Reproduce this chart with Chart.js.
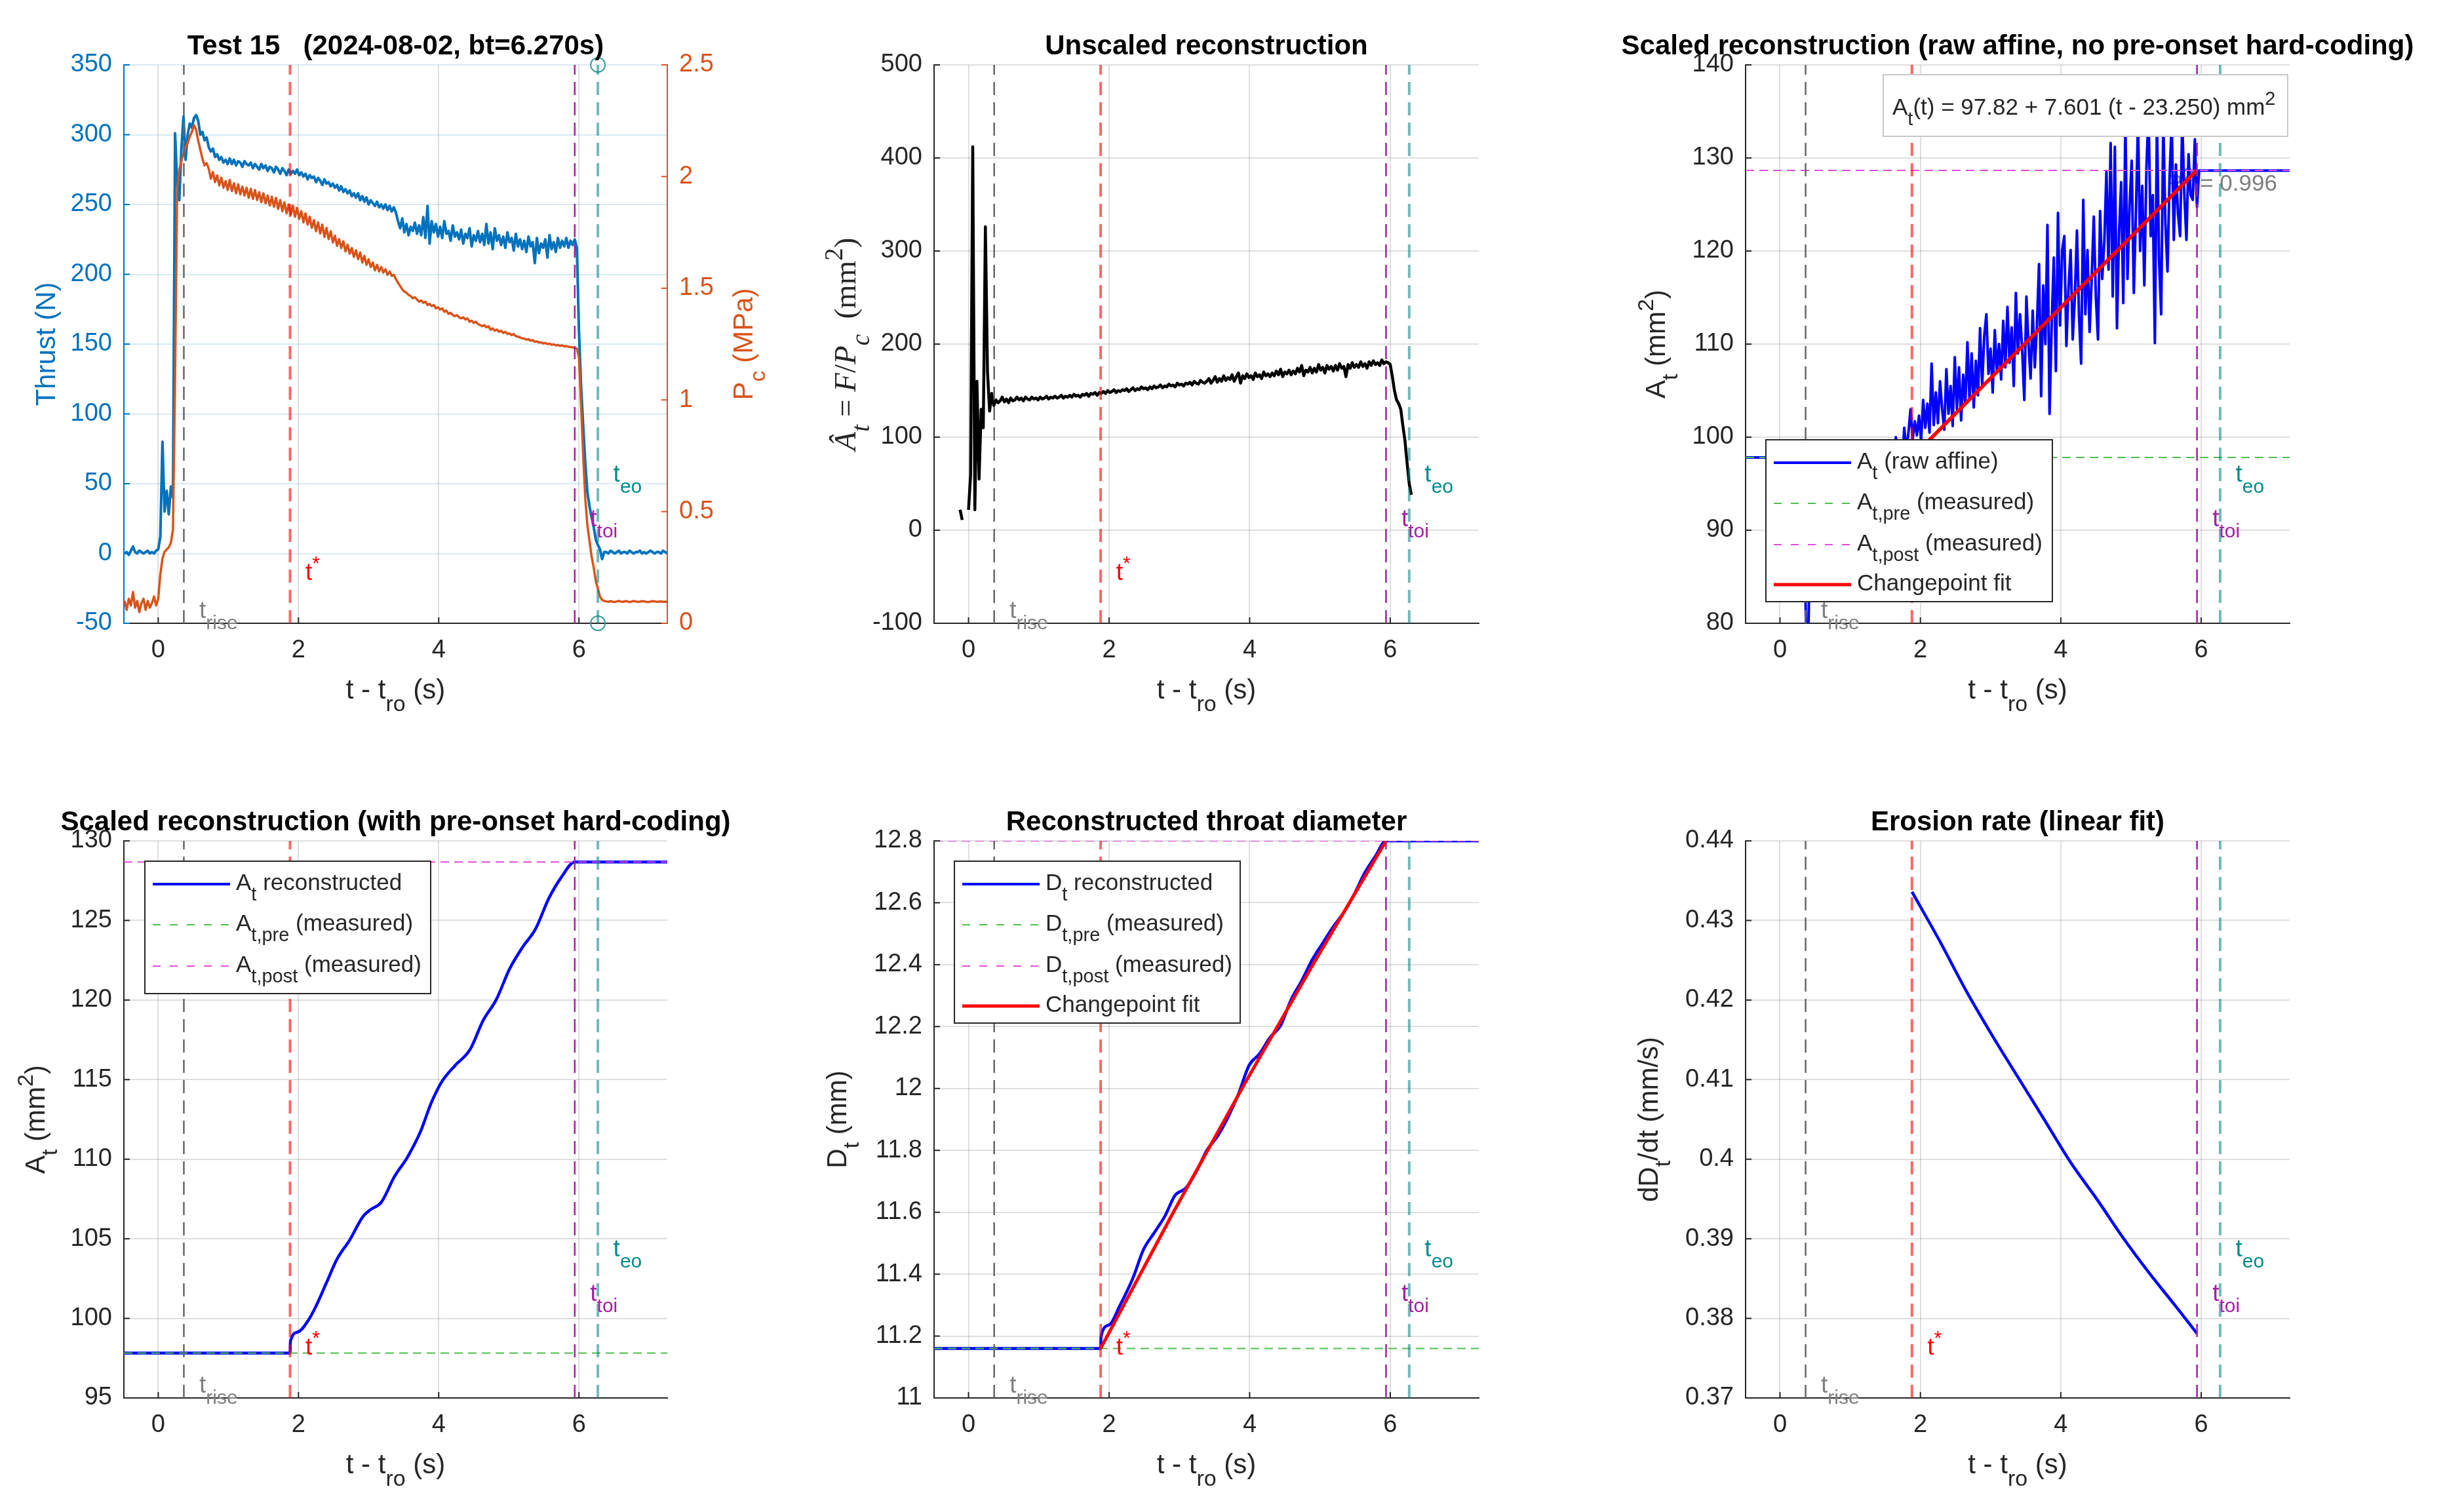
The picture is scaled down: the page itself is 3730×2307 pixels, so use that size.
<!DOCTYPE html>
<html>
<head>
<meta charset="utf-8">
<title>Test 15 - throat reconstruction</title>
<script src="https://cdn.jsdelivr.net/npm/chart.js@4.4.1/dist/chart.umd.min.js"></script>
<style>
  html, body { margin: 0; padding: 0; background: #fff; }
  #page { position: relative; width: 3730px; height: 2307px; overflow: hidden; }
  .cell { position: absolute; }
</style>
</head>
<body>
<div id="page">
  <div class="cell" style="left:0px;top:0px;width:1243px;height:1153px"><canvas id="c1"></canvas></div>
  <div class="cell" style="left:1243px;top:0px;width:1157px;height:1153px"><canvas id="c2"></canvas></div>
  <div class="cell" style="left:2400px;top:0px;width:1330px;height:1153px"><canvas id="c3"></canvas></div>
  <div class="cell" style="left:0px;top:1153px;width:1243px;height:1154px"><canvas id="c4"></canvas></div>
  <div class="cell" style="left:1243px;top:1153px;width:1157px;height:1154px"><canvas id="c5"></canvas></div>
  <div class="cell" style="left:2400px;top:1153px;width:1330px;height:1154px"><canvas id="c6"></canvas></div>
</div>
<script>
// ── data ──
// samples every 0.03 s starting at t - t_ro = -0.48 s
var T0 = -0.48, DT = 0.03;
var xLim = [-0.49, 7.26];
var xTicks = [0, 2, 4, 6];

// event times (s, relative to t_ro)
var tRise = 0.365, tStar = 1.88, tToi = 5.94, tEo = 6.27;

// thrust (N)
var thrustN = [
  0, 1, -1, 2, 5, 1, 0, 2, 1, 0,
  1, 2, 0, 1, 0, 2, 3, 12, 80, 30,
  45, 28, 48, 40, 301, 265, 253, 290, 313, 282,
  300, 308, 305, 312, 314, 310, 300, 302, 296, 298,
  291, 288, 290, 284, 286, 282, 284, 280, 282, 279,
  283, 279, 282, 278, 281, 280, 277, 281, 279, 278,
  280, 276, 279, 277, 275, 279, 276, 278, 274, 277,
  276, 273, 277, 275, 272, 276, 274, 271, 275, 272,
  274, 272, 275, 271, 273, 270, 272, 268, 271, 269,
  270, 266, 269, 267, 264, 268, 265, 266, 263, 265,
  262, 264, 260, 263, 259, 261, 258, 260, 256, 258,
  255, 258, 253, 256, 252, 255, 250, 253, 251, 249,
  252, 248, 250, 247, 250, 246, 249, 245, 248, 244,
  238, 233, 240, 230, 236, 228, 234, 231, 237, 229,
  235, 228, 241, 226, 249, 222, 238, 230, 236, 227,
  234, 226, 238, 229, 231, 224, 235, 227, 230, 225,
  232, 222, 229, 226, 233, 220, 228, 224, 231, 223,
  229, 221, 236, 222, 230, 218, 233, 224, 228, 221,
  227, 219, 230, 223, 226, 217, 229, 220, 225, 218,
  224, 216, 227, 220, 223, 208, 226, 215, 222, 219,
  225, 212, 228, 218, 223, 216, 226, 219, 224, 220,
  226, 219, 224, 221, 225, 219, 160, 120, 92, 65,
  44, 34, 26, 19, 10, 6, 3, -4, 1, 1,
  0, 2, 1, 0, 1, 2, 0, 1, 1, 0,
  2, 1, 0, 1, 1, 2, 0, 1, 0, 1,
  2, 1, 0, 1, 1, 0, 2, 1, 0
];

// chamber pressure (MPa)
var pcMPa = [
  0.10, 0.06, 0.11, 0.08, 0.14, 0.07, 0.10, 0.05, 0.09, 0.11,
  0.06, 0.10, 0.07, 0.09, 0.12, 0.08, 0.11, 0.22, 0.29, 0.32,
  0.33, 0.34, 0.36, 0.42, 1.10, 1.95, 2.03, 2.07, 2.10, 2.13,
  2.15, 2.18, 2.20, 2.23, 2.21, 2.16, 2.12, 2.08, 2.05, 2.06,
  2.035, 1.99, 2.02, 1.975, 2.005, 1.96, 1.995, 1.95, 1.98, 1.94,
  1.985, 1.935, 1.97, 1.925, 1.965, 1.92, 1.955, 1.915, 1.95, 1.905,
  1.945, 1.90, 1.94, 1.895, 1.93, 1.885, 1.925, 1.88, 1.915, 1.87,
  1.91, 1.865, 1.905, 1.855, 1.895, 1.845, 1.885, 1.835, 1.875, 1.83,
  1.87, 1.82, 1.86, 1.81, 1.845, 1.795, 1.835, 1.785, 1.82, 1.77,
  1.805, 1.755, 1.795, 1.745, 1.785, 1.73, 1.77, 1.72, 1.755, 1.705,
  1.735, 1.69, 1.72, 1.68, 1.71, 1.665, 1.695, 1.655, 1.68, 1.64,
  1.67, 1.63, 1.66, 1.615, 1.645, 1.605, 1.63, 1.595, 1.615, 1.58,
  1.605, 1.575, 1.595, 1.57, 1.585, 1.56, 1.575, 1.555, 1.56, 1.54,
  1.525, 1.51, 1.495, 1.485, 1.48, 1.47, 1.465, 1.455, 1.46, 1.45,
  1.44, 1.445, 1.435, 1.44, 1.425, 1.43, 1.42, 1.425, 1.41, 1.415,
  1.405, 1.41, 1.395, 1.40, 1.385, 1.39, 1.38, 1.375, 1.38, 1.37,
  1.365, 1.37, 1.36, 1.365, 1.35, 1.355, 1.345, 1.35, 1.34, 1.335,
  1.33, 1.335, 1.325, 1.33, 1.315, 1.32, 1.31, 1.315, 1.305, 1.31,
  1.30, 1.305, 1.295, 1.298, 1.29, 1.295, 1.285, 1.283, 1.28, 1.276,
  1.275, 1.27, 1.272, 1.265, 1.268, 1.26, 1.262, 1.257, 1.258, 1.253,
  1.255, 1.25, 1.252, 1.247, 1.249, 1.244, 1.246, 1.242, 1.244, 1.24,
  1.241, 1.238, 1.237, 1.235, 1.233, 1.23, 1.19, 0.98, 0.75, 0.56,
  0.44, 0.37, 0.30, 0.25, 0.19, 0.155, 0.12, 0.105, 0.10, 0.098,
  0.096, 0.099, 0.097, 0.095, 0.098, 0.10, 0.097, 0.096, 0.099, 0.098,
  0.095, 0.097, 0.10, 0.098, 0.096, 0.097, 0.099, 0.098, 0.096, 0.095,
  0.097, 0.099, 0.098, 0.096, 0.097, 0.098, 0.096, 0.097, 0.096
];

// unscaled reconstruction F/Pc (mm^2)
var aHatMm2 = [
  null, null, null, null, null, null, null, null, null, null,
  null, null, 22, 11, null, null, 22, 60, 412, 22,
  160, 55, 130, 110, 326, 170, 128, 147, 134, 140,
  137, 139, 143, 138, 141, 137, 142, 139, 140, 143,
  140, 142, 139, 143, 141, 140, 143, 141, 142, 140,
  143, 141, 142, 144, 141, 143, 142, 144, 142, 143,
  145, 142, 144, 143, 145, 143, 146, 144, 145, 143,
  146, 145, 147, 144, 147, 146, 148, 145, 148, 147,
  149, 147, 150, 148, 149, 151, 148, 150, 149, 151,
  150, 152, 149, 151, 153, 150, 152, 151, 154, 152,
  153, 151, 154, 152, 155, 153, 154, 156, 153, 155,
  154, 157, 155, 156, 154, 158, 156, 157, 155, 158,
  157, 159, 156, 160, 158, 157, 161, 159, 158, 160,
  163, 158, 161, 165, 159, 163, 160, 166, 161, 164,
  162, 167, 160, 165, 169, 158, 166, 163, 168, 164,
  166, 162, 169, 165, 167, 163, 170, 166, 168, 165,
  169, 166, 171, 167, 173, 165, 170, 168, 172, 167,
  171, 168, 174, 170, 177, 166, 172, 170, 175, 169,
  174, 170, 178, 172, 175, 169, 177, 173, 176, 171,
  177, 172, 179, 174, 176, 165, 178, 174, 180, 175,
  178, 175, 181, 176, 179, 174, 181, 177, 182, 178,
  180, 177, 183, 179, 181, 180, 178, 165, 150, 140,
  136, 130, 112, 96, 72, 50, 38, null, null, null,
  null, null, null, null, null, null, null, null, null, null,
  null, null, null, null, null, null, null, null, null, null,
  null, null, null, null, null, null, null, null, null
];

// scaled reconstruction, raw affine (mm^2)
var aRawMm2 = [
  97.82, 97.82, 97.82, 97.82, 97.82, 97.82, 97.82, 97.82, 97.82, 97.82,
  97.82, 97.82, 97.82, 97.82, 97.82, 97.82, 97.82, 97.82, 97.82, 97.82,
  97.82, 97.82, 97.82, 97.82, 97.82, 97.82, 97.82, 97.82, 84, 72,
  86, 88, 90, 87, 91, 89, 92, 90, 91, 93,
  90, 92, 91, 93, 90, 94, 92, 93, 91, 94,
  92, 95, 93, 94, 92, 96, 93, 95, 94, 96,
  94, 97, 95, 96, 94, 98, 95, 97, 96, 99.5,
  97, 100, 98, 99, 97, 101, 98.5, 100.5, 103, 99.8,
  101.7, 100.2, 102.3, 99.6, 104, 101, 103.6, 100.5, 107.9, 101.3,
  104.8, 101.5, 106, 103, 100.8, 107.3, 102.5, 105.5, 101.2, 108.6,
  103, 107.5, 101.8, 106.7, 103.5, 110.2, 104, 109, 103.2, 108.2,
  104.5, 111.7, 105.5, 110.9, 113.2, 106.8, 109.5, 104.8, 111.5, 107,
  110, 106.2, 112.5, 107.5, 114, 108, 111.8, 105.5, 115.5, 109,
  113.2, 109.4, 104, 115.1, 110, 106.3, 113.6, 107.5, 112, 118.6,
  104.4, 116.3, 110, 122.8, 102.5, 112, 119.3, 107.1, 124.1, 112,
  120.1, 121.6, 109.8, 116, 120.1, 110.5, 115, 122.2, 113, 107.9,
  125.5, 113.2, 120.1, 111.3, 117, 123.7, 115, 110.5, 124.3, 117,
  121, 128.5, 118, 131.6, 115.1, 131.2, 111.7, 122, 127.4, 114.4,
  134, 117, 125, 129.7, 115.5, 124, 134, 120, 127, 116.3,
  129, 135, 121.6, 126, 110.1, 134, 119, 113.2, 134, 123,
  117.8, 128, 134, 121.2, 129.3, 124, 121.6, 134, 126, 121.2,
  130.4, 126, 125.5, 132, 124.7, 128.65, 128.65, 128.65, 128.65, 128.65,
  128.65, 128.65, 128.65, 128.65, 128.65, 128.65, 128.65, 128.65, 128.65, 128.65,
  128.65, 128.65, 128.65, 128.65, 128.65, 128.65, 128.65, 128.65, 128.65, 128.65,
  128.65, 128.65, 128.65, 128.65, 128.65, 128.65, 128.65, 128.65, 128.65, 128.65,
  128.65, 128.65, 128.65, 128.65, 128.65, 128.65, 128.65, 128.65, 128.65
];

// changepoint fit of the raw affine area
var fitT = [1.88, 5.94];
var fitA = [97.82, 128.68];

// measured pre / post throat area and diameter
var aPre = 97.82, aPost = 128.67;
var dPre = 11.16, dPost = 12.8;

// reconstructed area with pre-onset hard-coding (mm^2)
var aRecT = [-0.49, 1.88, 1.885, 1.99, 2.14, 2.25, 2.40, 2.55, 2.73, 2.92, 3.03, 3.18, 3.37, 3.55,
             3.74, 3.89, 4.04, 4.23, 4.45, 4.63, 4.82, 5.01, 5.19, 5.38, 5.57, 5.75, 5.94, 7.26];
var aRecV = [97.82, 97.82, 98.55, 99.14, 99.88, 100.77, 102.25, 103.73, 104.92, 106.4, 106.84, 107.29, 108.92, 110.1,
             111.73, 113.5, 114.84, 115.87, 116.91, 118.69, 120.02, 121.95, 123.28, 124.46, 126.39, 127.72, 128.67, 128.67];

// reconstructed throat diameter (mm)
var dRecT = [-0.49, 1.88, 1.885, 2.00, 2.15, 2.34, 2.49, 2.64, 2.79, 2.94, 3.09, 3.24, 3.39, 3.54, 3.69,
             3.84, 3.99, 4.14, 4.29, 4.44, 4.59, 4.74, 4.89, 5.04, 5.19, 5.34, 5.49, 5.64, 5.79, 5.94, 7.26];
var dRecV = [11.16, 11.16, 11.198, 11.236, 11.297, 11.388, 11.48, 11.533, 11.586, 11.655, 11.678, 11.731, 11.8, 11.845, 11.906,
             11.982, 12.074, 12.112, 12.165, 12.203, 12.287, 12.348, 12.416, 12.47, 12.523, 12.569, 12.629, 12.698, 12.751, 12.8, 12.8];
var dFitT = [1.88, 2.90, 3.92, 4.93, 5.94];
var dFitV = [11.16, 11.594, 12.012, 12.412, 12.80];

// erosion rate dDt/dt (mm/s)
var rateT = [1.88, 2.27, 2.65, 3.02, 3.39, 3.77, 4.14, 4.52, 4.89, 5.26, 5.63, 5.94];
var rateV = [0.4336, 0.4275, 0.4212, 0.4156, 0.4103, 0.4049, 0.3996, 0.3949, 0.3901, 0.3857, 0.3816, 0.3781];

// tick labels
var thrustTicks = [-50, 0, 50, 100, 150, 200, 250, 300, 350];
var pcTicks = [0, 0.5, 1, 1.5, 2, 2.5];
var aHatTicks = [-100, 0, 100, 200, 300, 400, 500];
var aRawTicks = [80, 90, 100, 110, 120, 130, 140];
var aRecTicks = [95, 100, 105, 110, 115, 120, 125, 130];
var dTicks = [11, 11.2, 11.4, 11.6, 11.8, 12, 12.2, 12.4, 12.6, 12.8];
var rateTicks = [0.37, 0.38, 0.39, 0.4, 0.41, 0.42, 0.43, 0.44];

// ── helpers ──
var SANS = '"Liberation Sans", Arial, Helvetica, sans-serif';
var SERIF = '"Liberation Serif", "Times New Roman", serif';
var AX = '#262626';
var MBLUE = '#0072BD', MORANGE = '#D95319';
var BLUE = '#0000FF', RED = '#FF0000', GREEN = '#4DBF4D', MAGENTA = '#DD4DDD';

var tGrid = thrustN.map(function(_, i){ return Math.round((T0 + i * DT) * 100) / 100; });

function xy(ts, ys){ return ts.map(function(t, i){ return {x: t, y: ys[i]}; }); }
function hline(v){ return [{x: xLim[0], y: v}, {x: xLim[1], y: v}]; }

function drawRich(ctx, parts, x, y, size, color, align, opt){
  opt = opt || {};
  var fam = opt.family || SANS, wt = opt.weight || 'normal';
  var items = parts.map(function(p){
    var k = p[1] || '';
    var sub = k.indexOf('sub') >= 0, sup = k.indexOf('sup') >= 0;
    var sz = Math.round((sub || sup) ? size * 0.82 : size);
    var font = (k.indexOf('it') === 0 ? 'italic ' : '') + wt + ' ' + sz + 'px ' + fam;
    ctx.font = font;
    return {s: p[0], font: font, w: ctx.measureText(p[0]).width,
            dy: sub ? size * 0.45 : (sup ? -size * 0.42 : 0)};
  });
  var total = items.reduce(function(s, it){ return s + it.w; }, 0);
  var cx = align === 'center' ? x - total / 2 : (align === 'right' ? x - total : x);
  ctx.textAlign = 'left';
  ctx.textBaseline = 'alphabetic';
  ctx.fillStyle = color;
  items.forEach(function(it){ ctx.font = it.font; ctx.fillText(it.s, cx, y + it.dy); cx += it.w; });
  return total;
}

function drawRotated(ctx, parts, bx, cy, size, color, opt){
  ctx.save();
  ctx.translate(bx, cy);
  ctx.rotate(-Math.PI / 2);
  drawRich(ctx, parts, 0, 0, size, color, 'center', opt);
  ctx.restore();
}

var MARKERS = [
  {t: tRise, color: '#666666', w: 2.5, label: [['t'], ['rise', 'sub']], lc: '#808080', dy: -8},
  {t: tStar, color: 'rgba(255,0,0,0.6)', w: 4, label: [['t'], ['*', 'sup']], lc: '#FF0000', dy: -66},
  {t: tToi, color: '#A320A3', w: 2.5, label: [['t'], ['toi', 'sub']], lc: '#A320A3', dy: -148},
  {t: tEo, color: 'rgba(0,128,128,0.55)', w: 4, label: [['t'], ['eo', 'sub']], lc: '#008B8B', dy: -216}
];

function drawLegend(ctx, box, rows){
  ctx.save();
  ctx.fillStyle = '#fff';
  ctx.fillRect(box.x, box.y, box.w, box.h);
  ctx.strokeStyle = AX; ctx.lineWidth = 2; ctx.setLineDash([]);
  ctx.strokeRect(box.x, box.y, box.w, box.h);
  var offs = [44, 106, 169, 230];
  rows.forEach(function(r, i){
    var by = box.y + offs[i];
    ctx.strokeStyle = r.color; ctx.lineWidth = r.width;
    ctx.setLineDash(r.dash ? [12, 14] : []);
    ctx.beginPath(); ctx.moveTo(box.x + 12, by - 9); ctx.lineTo(box.x + 130, by - 9); ctx.stroke();
    ctx.setLineDash([]);
    drawRich(ctx, r.parts, box.x + 139, by, 35, AX, 'left');
  });
  ctx.restore();
}

function decor(p){
  function L(gx, gy){ return [gx - p.cell.x, gy - p.cell.y]; }
  return {
    id: 'decor' + p.id,
    beforeDatasetsDraw: function(chart){
      if (p.r2) {
        var q = L(p.r2.x, p.r2.y);
        drawRich(chart.ctx, [['R'], ['2', 'sup'], [' = 0.996']], q[0], q[1], 35, '#7F7F7F', 'left');
      }
    },
    afterDatasetsDraw: function(chart){
      var ctx = chart.ctx, ca = chart.chartArea, xs = chart.scales.x;
      ctx.save();
      ctx.beginPath(); ctx.rect(ca.left, ca.top, ca.right - ca.left, ca.bottom - ca.top); ctx.clip();
      MARKERS.forEach(function(m){
        var px = xs.getPixelForValue(m.t);
        ctx.strokeStyle = m.color; ctx.lineWidth = m.w; ctx.setLineDash([20, 11]);
        ctx.beginPath(); ctx.moveTo(px, ca.bottom); ctx.lineTo(px, ca.top); ctx.stroke();
      });
      ctx.restore();
      MARKERS.forEach(function(m){
        drawRich(ctx, m.label, xs.getPixelForValue(m.t) + 23.5, ca.bottom + m.dy, 37, m.lc, 'left');
      });
      if (p.box) {
        var b = L(p.box.x, p.box.y);
        ctx.save();
        ctx.fillStyle = '#fff'; ctx.fillRect(b[0], b[1], p.box.w, p.box.h);
        ctx.strokeStyle = '#C8C8C8'; ctx.lineWidth = 2; ctx.setLineDash([]);
        ctx.strokeRect(b[0], b[1], p.box.w, p.box.h);
        ctx.restore();
        drawRich(ctx, [['A'], ['t', 'sub'], ['(t) = 97.82 + 7.601 (t - 23.250) mm'], ['2', 'sup']],
                 b[0] + 14, b[1] + 61, 35, AX, 'left');
      }
      if (p.legend) {
        var g = L(p.legend.x, p.legend.y);
        drawLegend(ctx, {x: g[0], y: g[1], w: p.legend.w, h: p.legend.h}, p.legend.rows);
      }
    },
    afterDraw: function(chart){
      var ctx = chart.ctx, ca = chart.chartArea, xs = chart.scales.x, ys = chart.scales.y;
      var cxm = (ca.left + ca.right) / 2, cym = (ca.top + ca.bottom) / 2;
      // inward tick marks
      ctx.save(); ctx.lineWidth = 2; ctx.setLineDash([]);
      ctx.strokeStyle = AX;
      xs.ticks.forEach(function(t){
        var px = xs.getPixelForValue(t.value);
        ctx.beginPath(); ctx.moveTo(px, ca.bottom); ctx.lineTo(px, ca.bottom - 9); ctx.stroke();
      });
      ctx.strokeStyle = p.yColor || AX;
      ys.ticks.forEach(function(t){
        var py = ys.getPixelForValue(t.value);
        ctx.beginPath(); ctx.moveTo(ca.left, py); ctx.lineTo(ca.left + 9, py); ctx.stroke();
      });
      if (chart.scales.y2) {
        var y2 = chart.scales.y2;
        ctx.strokeStyle = MORANGE;
        y2.ticks.forEach(function(t){
          var py = y2.getPixelForValue(t.value);
          ctx.beginPath(); ctx.moveTo(ca.right, py); ctx.lineTo(ca.right - 9, py); ctx.stroke();
        });
      }
      ctx.restore();
      // title and axis labels
      drawRich(ctx, [[p.title]], cxm, ca.top - 16, 42, '#000', 'center', {weight: 'bold'});
      drawRich(ctx, [['t - t'], ['ro', 'sub'], [' (s)']], cxm, ca.bottom + 115, 42, AX, 'center');
      var yl = L(p.ylab.x, 0);
      drawRotated(ctx, p.ylab.parts, yl[0], cym, p.ylab.size || 42, p.yColor || AX, p.ylab.opt);
      if (p.y2lab) {
        var yr = L(p.y2lab.x, 0);
        drawRotated(ctx, p.y2lab.parts, yr[0], cym, 42, MORANGE);
      }
    }
  };
}

function tickCb(v){ return String(v); }
function fixTicks(list){ return function(s){ s.ticks = list.map(function(v){ return {value: v}; }); }; }

function yScale(min, max, ticks, color, gridColor, pos, width){
  return {
    type: 'linear', position: pos || 'left', min: min, max: max,
    afterBuildTicks: fixTicks(ticks),
    afterFit: function(s){ s.width = width || 120; },
    grid: {color: gridColor || 'rgba(38,38,38,0.15)', lineWidth: 2, drawTicks: false,
           drawOnChartArea: pos !== 'right'},
    border: {display: true, color: color || AX, width: 2},
    ticks: {color: color || AX, font: {family: SANS, size: 38}, padding: 18, callback: tickCb}
  };
}

function makePanel(p){
  var rightW = p.y2 ? 150 : 0;
  var scales = {
    x: {
      type: 'linear', min: xLim[0], max: xLim[1],
      afterBuildTicks: fixTicks(xTicks),
      afterFit: function(s){ s.height = 100; },
      grid: {color: 'rgba(38,38,38,0.15)', lineWidth: 2, drawTicks: false},
      border: {display: true, color: AX, width: 2},
      ticks: {color: AX, font: {family: SANS, size: 38}, padding: 19, maxRotation: 0, autoSkip: false, callback: tickCb}
    },
    y: p.y
  };
  if (p.y2) scales.y2 = p.y2;
  return new Chart(document.getElementById(p.id), {
    type: 'line',
    data: {datasets: p.datasets},
    options: {
      responsive: true, maintainAspectRatio: false, animation: false, devicePixelRatio: 1,
      parsing: true, normalized: true, spanGaps: false,
      layout: {padding: {
        left: p.rect.l - p.cell.x - 120,
        right: p.cell.x + p.cell.w - p.rect.r - rightW,
        top: p.rect.t - p.cell.y,
        bottom: p.cell.y + p.cell.h - p.rect.b - 100
      }},
      elements: {point: {radius: 0}, line: {tension: 0, borderCapStyle: 'butt', borderJoinStyle: 'round'}},
      plugins: {legend: {display: false}, tooltip: {enabled: false}, title: {display: false}},
      scales: scales
    },
    plugins: [decor(p)]
  });
}

function ds(data, color, width, extra){
  var d = {data: data, borderColor: color, backgroundColor: color, borderWidth: width,
           pointRadius: 0, fill: false, spanGaps: false};
  for (var k in extra) d[k] = extra[k];
  return d;
}

var CELL1 = {x: 0, y: 0, w: 1243, h: 1153}, CELL2 = {x: 1243, y: 0, w: 1157, h: 1153}, CELL3 = {x: 2400, y: 0, w: 1330, h: 1153};
var CELL4 = {x: 0, y: 1153, w: 1243, h: 1154}, CELL5 = {x: 1243, y: 1153, w: 1157, h: 1154}, CELL6 = {x: 2400, y: 1153, w: 1330, h: 1154};

var preRow = function(sym){ return {parts: [[sym], ['t,pre', 'sub'], [' (measured)']], color: GREEN, width: 2, dash: true}; };
var postRow = function(sym){ return {parts: [[sym], ['t,post', 'sub'], [' (measured)']], color: MAGENTA, width: 2, dash: true}; };

// 1. thrust and chamber pressure
makePanel({
  id: 'c1', cell: CELL1, rect: {l: 189, r: 1018, t: 99, b: 951},
  title: 'Test 15   (2024-08-02, bt=6.270s)',
  yColor: MBLUE,
  ylab: {x: 84, parts: [['Thrust (N)']]},
  y2lab: {x: 1148, parts: [['P'], ['c', 'sub'], [' (MPa)']]},
  y: yScale(-50, 350, thrustTicks, MBLUE, 'rgba(0,114,189,0.15)'),
  y2: yScale(0, 2.5, pcTicks, MORANGE, null, 'right', 150),
  datasets: [
    ds(xy(tGrid, thrustN), MBLUE, 4, {order: 2, yAxisID: 'y'}),
    ds(xy(tGrid, pcMPa), MORANGE, 3.5, {order: 1, yAxisID: 'y2'}),
    ds([{x: tEo, y: 350}, {x: tEo, y: -50}], '#3A9E9E', 0,
       {order: 0, yAxisID: 'y', showLine: false, pointRadius: 11, pointBorderWidth: 2,
        pointBorderColor: '#3A9E9E', pointBackgroundColor: 'rgba(0,0,0,0)', clip: false})
  ]
});

// 2. unscaled reconstruction
makePanel({
  id: 'c2', cell: CELL2, rect: {l: 1425, r: 2256, t: 99, b: 951},
  title: 'Unscaled reconstruction',
  ylab: {x: 1305, size: 47, opt: {family: SERIF},
         parts: [['\u00C2', 'it'], ['t', 'itsub'], [' = '], ['F', 'it'], ['/'], ['P', 'it'], ['c', 'itsub'], ['  (mm'], ['2', 'sup'], [')']]},
  y: yScale(-100, 500, aHatTicks),
  datasets: [ds(xy(tGrid, aHatMm2), '#000000', 4.5, {order: 1})]
});

// 3. scaled reconstruction, raw affine
makePanel({
  id: 'c3', cell: CELL3, rect: {l: 2663, r: 3493, t: 99, b: 951},
  title: 'Scaled reconstruction (raw affine, no pre-onset hard-coding)',
  ylab: {x: 2540, parts: [['A'], ['t', 'sub'], [' (mm'], ['2', 'sup'], [')']]},
  y: yScale(80, 140, aRawTicks),
  r2: {x: 3305, y: 291},
  box: {x: 2873, y: 114, w: 617, h: 94},
  legend: {x: 2694, y: 671, w: 437, h: 247, rows: [
    {parts: [['A'], ['t', 'sub'], [' (raw affine)']], color: BLUE, width: 4},
    preRow('A'), postRow('A'),
    {parts: [['Changepoint fit']], color: RED, width: 5}
  ]},
  datasets: [
    ds(xy(tGrid, aRawMm2), BLUE, 4, {order: 4}),
    ds(hline(aPre), GREEN, 2, {order: 3, borderDash: [13, 8]}),
    ds(hline(aPost), MAGENTA, 2, {order: 2, borderDash: [13, 8]}),
    ds(xy(fitT, fitA), RED, 5.5, {order: 1})
  ]
});

// 4. scaled reconstruction with pre-onset hard-coding
makePanel({
  id: 'c4', cell: CELL4, rect: {l: 189, r: 1018, t: 1283, b: 2133},
  title: 'Scaled reconstruction (with pre-onset hard-coding)',
  ylab: {x: 68, parts: [['A'], ['t', 'sub'], [' (mm'], ['2', 'sup'], [')']]},
  y: yScale(95, 130, aRecTicks),
  legend: {x: 221, y: 1314, w: 436, h: 202, rows: [
    {parts: [['A'], ['t', 'sub'], [' reconstructed']], color: BLUE, width: 4},
    preRow('A'), postRow('A')
  ]},
  datasets: [
    ds(xy(aRecT, aRecV), BLUE, 4.5, {order: 3, cubicInterpolationMode: 'monotone'}),
    ds(hline(aPre), GREEN, 2, {order: 2, borderDash: [13, 8]}),
    ds(hline(aPost), MAGENTA, 2, {order: 1, borderDash: [13, 8]})
  ]
});

// 5. reconstructed throat diameter
makePanel({
  id: 'c5', cell: CELL5, rect: {l: 1425, r: 2256, t: 1283, b: 2133},
  title: 'Reconstructed throat diameter',
  ylab: {x: 1291, parts: [['D'], ['t', 'sub'], [' (mm)']]},
  y: yScale(11, 12.8, dTicks),
  legend: {x: 1456, y: 1314, w: 436, h: 247, rows: [
    {parts: [['D'], ['t', 'sub'], [' reconstructed']], color: BLUE, width: 4},
    preRow('D'), postRow('D'),
    {parts: [['Changepoint fit']], color: RED, width: 5}
  ]},
  datasets: [
    ds(xy(dRecT, dRecV), BLUE, 4.5, {order: 4, cubicInterpolationMode: 'monotone'}),
    ds(hline(dPre), GREEN, 2, {order: 3, borderDash: [13, 8]}),
    ds(hline(dPost), MAGENTA, 2, {order: 2, borderDash: [13, 8]}),
    ds(xy(dFitT, dFitV), RED, 5, {order: 1})
  ]
});

// 6. erosion rate
makePanel({
  id: 'c6', cell: CELL6, rect: {l: 2663, r: 3493, t: 1283, b: 2133},
  title: 'Erosion rate (linear fit)',
  ylab: {x: 2529, parts: [['dD'], ['t', 'sub'], ['/dt (mm/s)']]},
  y: yScale(0.37, 0.44, rateTicks),
  datasets: [ds(xy(rateT, rateV), BLUE, 4.5, {order: 1, cubicInterpolationMode: 'monotone'})]
});
</script>
</body>
</html>
